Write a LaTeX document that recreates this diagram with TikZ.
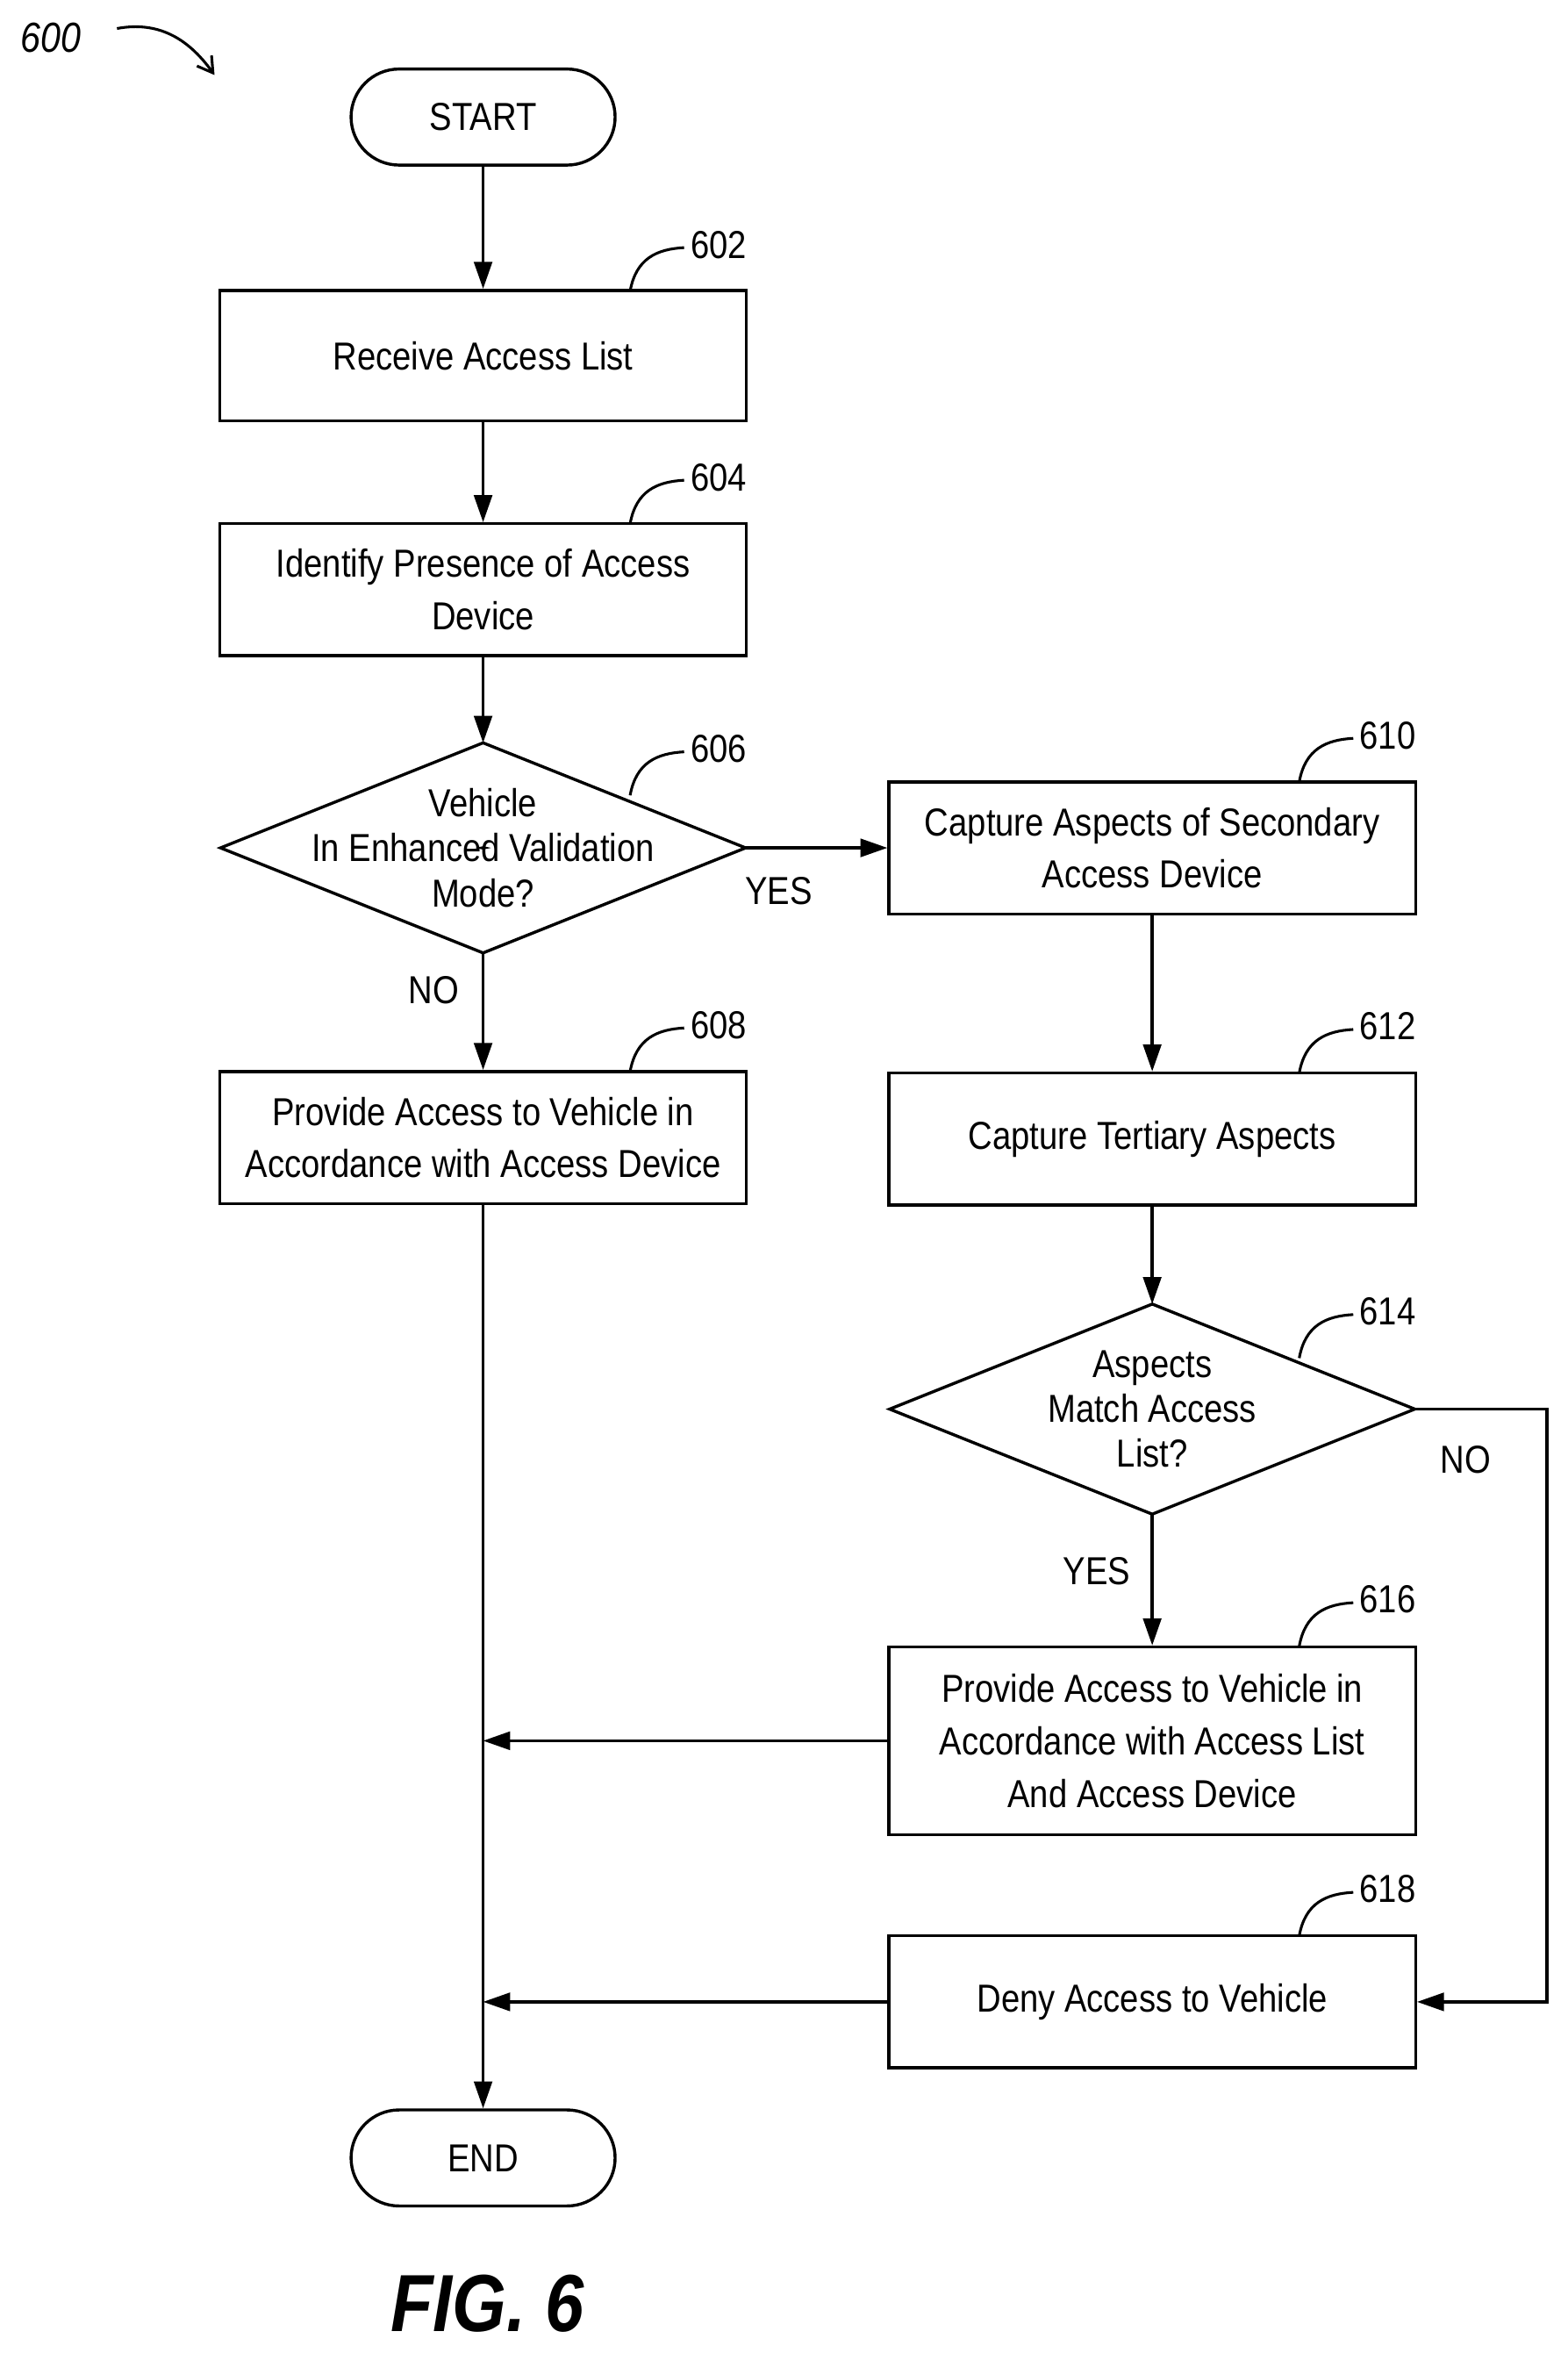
\documentclass[tikz,border=0pt]{standalone}
\usepackage{fontspec}
\setmainfont{Liberation Sans}[FakeStretch=0.86]
\usetikzlibrary{shapes.geometric,arrows.meta}
\begin{document}
\begin{tikzpicture}[x=1pt,y=-1pt,line width=2pt,
  box/.style={draw,rectangle,minimum width=351pt,align=center,font=\fontsize{26}{35}\selectfont,inner sep=0pt},
  dia/.style={draw,diamond,minimum width=350pt,minimum height=140pt,aspect=2.5,align=center,font=\fontsize{26}{35}\selectfont,inner sep=0pt},
  term/.style={draw,rounded rectangle,minimum width=176pt,minimum height=64pt,font=\fontsize{26}{30}\selectfont},
  arr/.style={-{Triangle[length=18pt,width=12pt]}},
  lbl/.style={font=\fontsize{26}{30}\selectfont},
  rn/.style={font=\fontsize{26}{30}\selectfont,anchor=west}]
\useasboundingbox (0,0) rectangle (1045,1568);
\tikzset{rounded rectangle/.style={rectangle,rounded corners=32pt}}
\node[term] (start) at (322,78) {START};
\node[box,minimum height=87pt] (b602) at (322,237) {Receive Access List};
\node[box,minimum height=88pt] (b604) at (322,393) {Identify Presence of Access\\Device};
\node[draw,diamond,minimum width=0pt,inner sep=0pt] (d606) at (322,565) {};
\draw (147,565) -- (322,495) -- (497,565) -- (322,635) -- cycle;
\coordinate (d606n) at (322,495); \coordinate (d606s) at (322,635); \coordinate (d606e) at (497,565);
\node[lbl,align=center] at (322,565) {Vehicle\\In Enhanced Validation\\Mode?};
\node[box,minimum height=88pt] (b608) at (322,758) {Provide Access to Vehicle in\\Accordance with Access Device};
\node[box,minimum height=88pt] (b610) at (768,565) {Capture Aspects of Secondary\\Access Device};
\node[box,minimum height=88pt] (b612) at (768,759) {Capture Tertiary Aspects};
\draw (593,939) -- (768,869) -- (943,939) -- (768,1009) -- cycle;
\coordinate (d614n) at (768,869); \coordinate (d614s) at (768,1009); \coordinate (d614e) at (943,939);
\node[lbl,align=center] at (768,939) {Aspects\\Match Access\\List?};
\node[box,minimum height=125pt] (b616) at (768,1160) {Provide Access to Vehicle in\\Accordance with Access List\\And Access Device};
\node[box,minimum height=88pt] (b618) at (768,1334) {Deny Access to Vehicle};
\node[term] (end) at (322,1438) {END};
\node[font=\fontsize{54}{60}\selectfont\bfseries\itshape] (fig) at (325,1535) {FIG. 6};
% arrows
\draw[arr] (start) -- (b602);
\draw[arr] (b602) -- (b604);
\draw[arr] (b604) -- (d606n);
\draw[arr] (d606s) -- (b608);
\node[lbl] (no1) at (289,660) {NO};
\draw[arr] (d606e) -- (b610);
\node[lbl] (yes1) at (519,594) {YES};
\draw[arr] (b610) -- (b612);
\draw[arr] (b612) -- (d614n);
\draw[arr] (d614s) -- (b616);
\node[lbl] (yes2) at (731,1047) {YES};
\coordinate (c1) at (1031,939); \coordinate (c2) at (1031,1334);
\draw[arr] (d614e) -- (c1) -- (c2) -- (b618.east);
\node[lbl] (no2) at (977,973) {NO};
\draw[arr] (b608) -- (end);
\coordinate (m1) at (322,1160); \coordinate (m2) at (322,1334);
\draw[arr] (b616) -- (m1);
\draw[arr] (b618) -- (m2);
% reference numerals
\foreach \x/\y/\t in {420/194/602,420/349/604,420/530/606,420/714/608,866/521/610,866/715/612,866/905/614,866/1097/616,866/1290/618}{
  \draw[line width=1.8pt] (\x,\y) .. controls (\x+4,\y-22) and (\x+18,\y-28) .. (\x+36,\y-29);
  \node[rn] at (\x+36,\y-31) {\t};
}
\node[font=\fontsize{28}{30}\selectfont\itshape] (n600) at (34,25) {600};
\draw[line width=1.8pt,-{Straight Barb[length=10pt,width=12pt]}] (78,19) .. controls (105,14) and (125,25) .. (143,50);
\end{tikzpicture}
\end{document}
